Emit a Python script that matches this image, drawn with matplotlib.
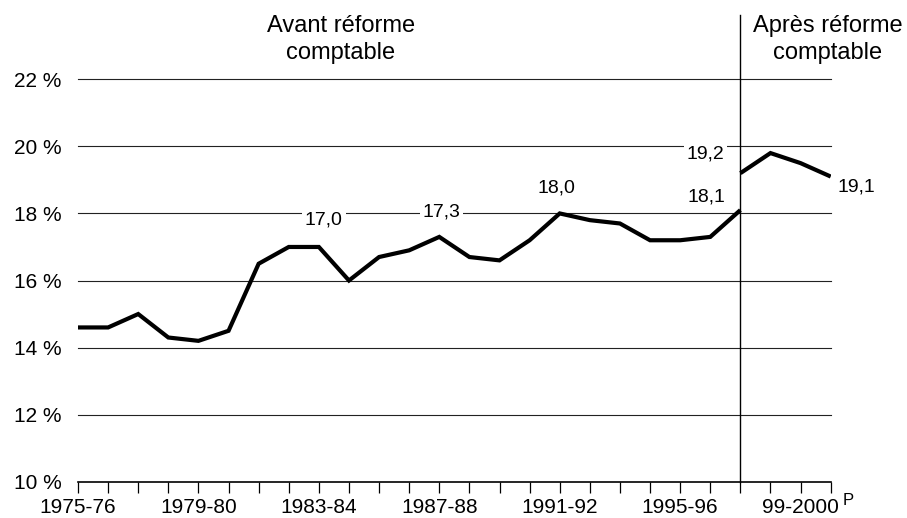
import matplotlib
matplotlib.use('Agg')
import matplotlib.pyplot as plt

plt.rcParams['font.family'] = ['Liberation Sans', 'DejaVu Sans']

# taux par exercice (indice 0 = 1975-76, indice 25 = 2000-01)
tick_labels = ['1975-76', '', '', '', '1979-80', '', '', '', '1983-84', '', '', '',
               '1987-88', '', '', '', '1991-92', '', '', '', '1995-96', '', '', '',
               '99-2000', '']
avant_x = list(range(0, 23))
avant = [14.6, 14.6, 15.0, 14.3, 14.2, 14.5, 16.5, 17.0, 17.0, 16.0, 16.7, 16.9,
         17.3, 16.7, 16.6, 17.2, 18.0, 17.8, 17.7, 17.2, 17.2, 17.3, 18.1]
apres_x = [22, 23, 24, 25]
apres = [19.2, 19.8, 19.5, 19.1]
y_ticks = [10, 12, 14, 16, 18, 20, 22]

W, H = 907, 518
fig = plt.figure(figsize=(W / 100, H / 100), dpi=100)
ax = fig.add_axes([78 / W, 1 - 481.7 / H, (830.7 - 78) / W, (481.7 - 79.3) / H])

# lignes horizontales
for y in y_ticks[1:]:
    ax.axhline(y, color='#222222', lw=0.8, zorder=1, clip_on=False)

ax.plot(avant_x, avant, color='black', lw=3.0, solid_joinstyle='miter',
        solid_capstyle='butt', zorder=3)
ax.plot(apres_x, apres, color='black', lw=3.0, solid_joinstyle='miter',
        solid_capstyle='butt', zorder=3)

# séparation avant / après réforme
ax.axvline(22, ymin=0, ymax=(481.7 - 15) / (481.7 - 79.3), color='black', lw=1,
           clip_on=False, zorder=2)

ax.set_xlim(0, 25)
ax.set_ylim(10, 22)
ax.set_xticks(range(len(tick_labels)))
ax.set_xticklabels(tick_labels, fontsize=15)
ax.set_yticks(y_ticks)
ax.set_yticklabels(['%d %%' % v for v in y_ticks], fontsize=15)
ax.tick_params(axis='x', direction='out', length=8, width=0.9, pad=4, color='black')
ax.tick_params(axis='y', length=0, pad=12)
for s in ['left', 'top', 'right']:
    ax.spines[s].set_visible(False)
ax.spines['bottom'].set_linewidth(1.2)

box = dict(fc='white', ec='none', pad=2)
def lab(txt, x, y, dx, dy):
    ax.annotate(txt, xy=(x, y), xytext=(dx, dy), textcoords='offset pixels',
                ha='center', va='center', fontsize=14, bbox=box, zorder=4)

lab('17,0', avant_x[8], avant[8], 5, 27)
lab('17,3', avant_x[12], avant[12], 2, 25)
lab('18,0', avant_x[16], avant[16], -3, 25)
lab('18,1', avant_x[22], avant[22], -34, 13)
lab('19,2', apres_x[0], apres[0], -35, 19)
lab('19,1', apres_x[3], apres[3], 26, -10)

ax.annotate('P', xy=(25, 10), xytext=(17, -19), textcoords='offset pixels',
            ha='center', va='center', fontsize=12, annotation_clip=False)

fig.text(341 / W, 1 - 15 / H, 'Avant réforme\ncomptable', ha='center', va='top',
         fontsize=17, linespacing=1.3)
fig.text(828 / W, 1 - 15 / H, 'Après réforme\ncomptable', ha='center', va='top',
         fontsize=17, linespacing=1.3)

fig.savefig('out.png', dpi=100)
